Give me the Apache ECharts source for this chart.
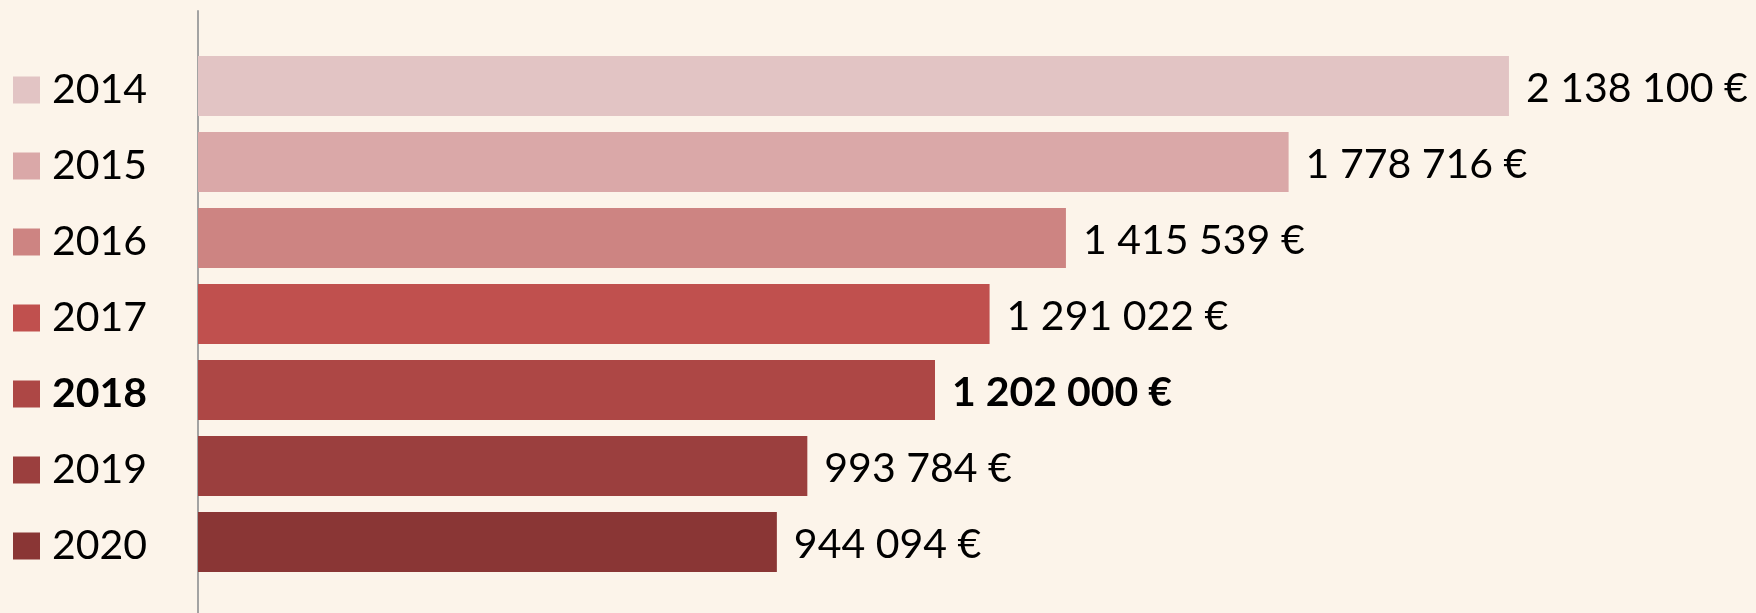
<!DOCTYPE html>
<html>
<head>
<meta charset="utf-8">
<script src="https://cdn.jsdelivr.net/npm/echarts@6/dist/echarts.min.js"></script>
<style>
  html, body { margin: 0; padding: 0; background: #FCF4EA; }
  #chart { width: 1756px; height: 613px; }
</style>
</head>
<body>
<div id="chart"></div>
<script>
// données
const years = ['2014', '2015', '2016', '2017', '2018', '2019', '2020']
const amounts = [2138100, 1778716, 1415539, 1291022, 1202000, 993784, 944094]
const barColors = ['#E2C4C4', '#DAA8A8', '#CD8482', '#C0504E', '#AD4745', '#9B3F3E', '#8A3635']
const highlightYear = '2018'

const fontFamily = 'Lato, "Open Sans", sans-serif'

// 2 138 100 €
const formatEuro = (v) => String(v).replace(/\B(?=(\d{3})+(?!\d))/g, ' ') + ' €'

const rich = {
  t: { fontSize: 41, color: '#000', fontFamily: fontFamily, padding: [0, 0, 0, 12] },
  tb: { fontSize: 41, color: '#000', fontWeight: 'bold', fontFamily: fontFamily, padding: [0, 0, 0, 12] }
}
barColors.forEach((c, i) => {
  rich['s' + i] = { backgroundColor: c, width: 27, height: 27 }
})

const chart = echarts.init(document.getElementById('chart'))

const option = {
  backgroundColor: '#FCF4EA',
  animation: false,
  grid: [
    { left: 198, right: 0, top: 48, height: 532 },
    // grille vide, juste pour la ligne d'axe
    { left: 198, right: 0, top: 11, bottom: 0 }
  ],
  xAxis: [
    { gridIndex: 0, type: 'value', min: 0, max: 2541000, show: false },
    { gridIndex: 1, type: 'value', min: 0, max: 1, show: false }
  ],
  yAxis: [
    {
      gridIndex: 0,
      type: 'category',
      data: years,
      inverse: true,
      axisLine: { show: false },
      axisTick: { show: false },
      axisLabel: {
        align: 'left',
        margin: 185,
        padding: [8, 0, 0, 0],
        formatter: (value, index) => {
          const style = value === highlightYear ? 'tb' : 't'
          return `{s${index}|}{${style}|${value}}`
        },
        rich: rich
      }
    },
    {
      gridIndex: 1,
      type: 'category',
      data: [''],
      axisLine: { show: true, lineStyle: { color: '#A3A3A3', width: 2 } },
      axisTick: { show: false },
      axisLabel: { show: false }
    }
  ],
  series: [
    {
      type: 'bar',
      xAxisIndex: 0,
      yAxisIndex: 0,
      barWidth: 60,
      data: amounts.map((v, i) => ({
        value: v,
        itemStyle: { color: barColors[i] },
        label: years[i] === highlightYear ? { fontWeight: 'bold' } : undefined
      })),
      label: {
        show: true,
        position: 'right',
        distance: 17,
        offset: [0, 3],
        color: '#000',
        fontSize: 41,
        fontFamily: fontFamily,
        formatter: (p) => formatEuro(p.value)
      }
    }
  ]
}

chart.setOption(option)
</script>
</body>
</html>
